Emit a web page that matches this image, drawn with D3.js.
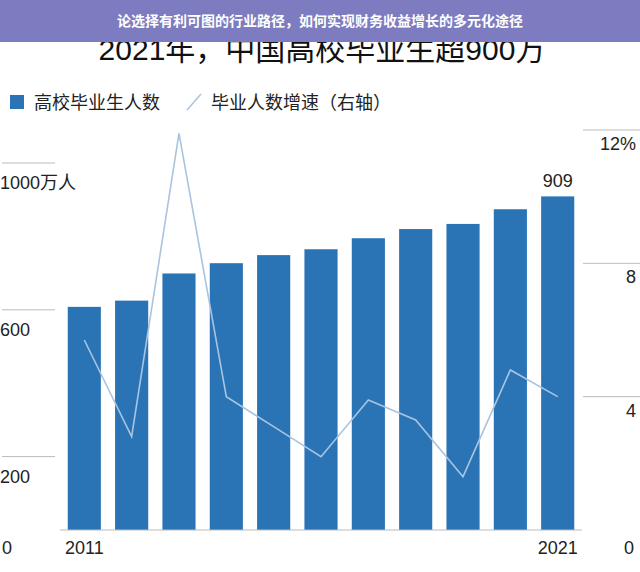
<!DOCTYPE html>
<html><head><meta charset="utf-8">
<script src="https://cdn.jsdelivr.net/npm/d3@7"></script>
<style>body{margin:0;background:#fff}svg{display:block;font-family:"Liberation Sans","Noto Sans CJK SC",sans-serif}</style>
</head><body>
<script>
var years = [2011,2012,2013,2014,2015,2016,2017,2018,2019,2020,2021]
var grads = [608,625,699,727,749,765,795,820,834,874,909]
var growth = [5.7,2.8,11.9,4.0,3.1,2.2,3.9,3.3,1.6,4.8,4.0]
var leftTicks = [200,600,1000]
var rightTicks = [4,8,12]

var W = 640, H = 572
var svg = d3.select("body").append("svg").attr("width", W).attr("height", H)

var x = d3.scaleBand().domain(years).range([63, 579]).paddingInner(0.3).paddingOuter(0.1)
var yL = d3.scaleLinear().domain([0, 1000]).range([530, 163])
var yR = d3.scaleLinear().domain([0, 12]).range([530, 130])

// title
svg.append("text").attr("x", 322).attr("y", 60).attr("text-anchor", "middle")
    .attr("font-size", 30).attr("fill", "#111").text("2021年，中国高校毕业生超900万")

// legend
svg.append("rect").attr("x", 10).attr("y", 95).attr("width", 14).attr("height", 14).attr("fill", "#2a74b5")
svg.append("text").attr("x", 34).attr("y", 109).attr("font-size", 18).attr("fill", "#222").text("高校毕业生人数")
svg.append("line").attr("x1", 187).attr("y1", 110).attr("x2", 201).attr("y2", 94).attr("stroke", "#a9c4e0").attr("stroke-width", 1.5)
svg.append("text").attr("x", 211).attr("y", 109).attr("font-size", 18).attr("fill", "#222").text("毕业人数增速（右轴）")

// left axis ticks
leftTicks.forEach(function(t) {
    svg.append("line").attr("x1", 2).attr("x2", 55).attr("y1", yL(t)).attr("y2", yL(t)).attr("stroke", "#bbb")
    svg.append("text").attr("x", 0).attr("y", yL(t) + 26).attr("font-size", 18).attr("fill", "#222")
        .text(t == 1000 ? "1000万人" : t)
})
svg.append("text").attr("x", 2).attr("y", 554).attr("font-size", 18).attr("fill", "#222").text("0")

// right axis ticks
rightTicks.forEach(function(t) {
    svg.append("line").attr("x1", 583).attr("x2", 640).attr("y1", yR(t)).attr("y2", yR(t)).attr("stroke", "#bbb")
    svg.append("text").attr("x", 636).attr("y", yR(t) + 20).attr("text-anchor", "end").attr("font-size", 18).attr("fill", "#222")
        .text(t == 12 ? "12%" : t)
})
svg.append("text").attr("x", 634).attr("y", 554).attr("text-anchor", "end").attr("font-size", 18).attr("fill", "#222").text("0")

// bars
svg.selectAll(".bar").data(grads).join("rect")
    .attr("x", function(d, i) { return x(years[i]) })
    .attr("y", function(d) { return yL(d) })
    .attr("width", x.bandwidth())
    .attr("height", function(d) { return yL(0) - yL(d) })
    .attr("fill", "#2a74b5")

svg.append("line").attr("x1", 60).attr("x2", 582).attr("y1", 530).attr("y2", 530).attr("stroke", "#bbb")

// growth line
var line = d3.line().x(function(d, i) { return x(years[i]) + x.bandwidth() / 2 }).y(function(d) { return yR(d) })
svg.append("path").datum(growth).attr("d", line).attr("fill", "none").attr("stroke", "#a9c4e0").attr("stroke-width", 1.6)

// labels
svg.append("text").attr("x", x(2021) + x.bandwidth() / 2).attr("y", yL(909) - 9).attr("text-anchor", "middle")
    .attr("font-size", 18).attr("fill", "#222").text("909")
svg.append("text").attr("x", x(2011) + x.bandwidth() / 2).attr("y", 554).attr("text-anchor", "middle")
    .attr("font-size", 18).attr("fill", "#222").text("2011")
svg.append("text").attr("x", x(2021) + x.bandwidth() / 2).attr("y", 554).attr("text-anchor", "middle")
    .attr("font-size", 18).attr("fill", "#222").text("2021")

// banner
svg.append("rect").attr("x", 0).attr("y", 0).attr("width", W).attr("height", 42).attr("fill", "#7d7cc0")
svg.append("text").attr("x", 320).attr("y", 26).attr("text-anchor", "middle").attr("font-size", 14)
    .attr("font-weight", "bold").attr("fill", "#fff").text("论选择有利可图的行业路径，如何实现财务收益增长的多元化途径")
</script>
</body></html>
